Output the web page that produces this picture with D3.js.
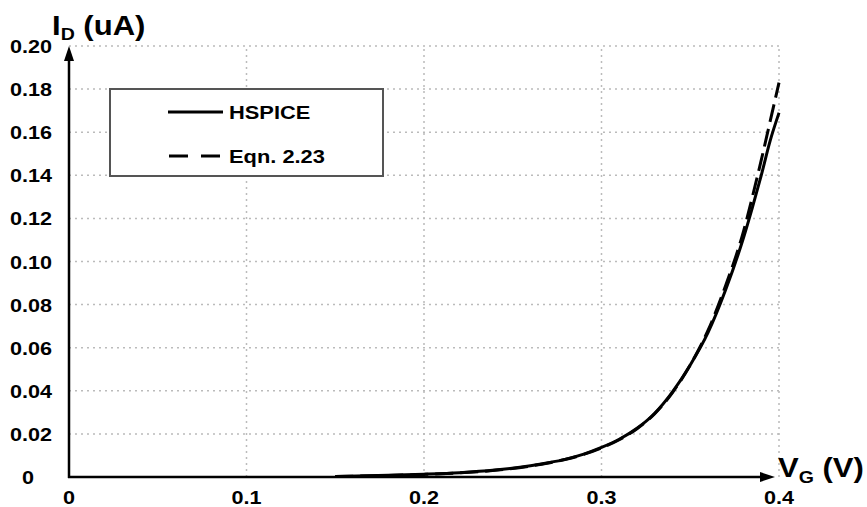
<!DOCTYPE html>
<html><head><meta charset="utf-8">
<script src="https://cdn.jsdelivr.net/npm/d3@7"></script>
<style>body{margin:0;background:#fff}text{font-family:"Liberation Sans",Arial,sans-serif;font-weight:bold;fill:#000}</style>
</head><body><svg id="c" width="867" height="507"></svg>
<script>
const vg     = [0.15,0.18,0.20,0.22,0.24,0.26,0.27,0.28,0.29,0.30,0.31,0.32,0.33,0.34,0.35,0.36,0.37,0.38,0.385,0.39,0.395,0.40];
const hspice = [0.0002,0.0008,0.0013,0.0020,0.0032,0.0052,0.0066,0.0083,0.0106,0.0137,0.0175,0.0226,0.0296,0.0395,0.052,0.067,0.087,0.111,0.125,0.140,0.156,0.169];
const eqn    = [0.0002,0.0007,0.0012,0.0019,0.0031,0.0051,0.0065,0.0082,0.0105,0.0135,0.0173,0.0224,0.0294,0.0392,0.052,0.068,0.089,0.114,0.130,0.147,0.165,0.183];
const xTicks = [0,0.1,0.2,0.3,0.4];
const xTickLabels = ["0","0.1","0.2","0.3","0.4"];
const yTicks = [0,0.02,0.04,0.06,0.08,0.10,0.12,0.14,0.16,0.18,0.20];
const yTickLabels = ["0","0.02","0.04","0.06","0.08","0.10","0.12","0.14","0.16","0.18","0.20"];
const seriesNames = ["HSPICE","Eqn. 2.23"];

const svg = d3.select("#c");
const x = d3.scaleLinear().domain([0,0.4]).range([69,779]);
const y = d3.scaleLinear().domain([0,0.2]).range([477,46]);

// grid
const g = svg.append("g");
g.selectAll("line.v").data(xTicks.slice(1)).enter().append("line")
 .attr("x1",d=>x(d)).attr("x2",d=>x(d)).attr("y1",y(0)).attr("y2",y(0.2))
 .attr("stroke","#bbb").attr("stroke-width",1.5).attr("stroke-dasharray","2,4");
g.selectAll("line.h").data(yTicks.slice(1)).enter().append("line")
 .attr("x1",x(0)).attr("x2",x(0.4)).attr("y1",d=>y(d)).attr("y2",d=>y(d))
 .attr("stroke","#bbb").attr("stroke-width",1.5).attr("stroke-dasharray","2,4");

// tick labels
const sx = 1.2;
svg.selectAll("text.xt").data(xTicks).enter().append("text")
 .attr("transform",d=>`translate(${x(d)},504) scale(${sx},1)`)
 .attr("text-anchor","middle").attr("font-size",18).text((d,i)=>xTickLabels[i]);
svg.selectAll("text.yt").data(yTicks).enter().append("text")
 .attr("transform",(d,i)=>`translate(${i===0?28:31},${y(d)+7}) scale(${sx},1)`)
 .attr("text-anchor","middle").attr("font-size",18).text((d,i)=>yTickLabels[i]);

// curves
const line = d3.line().x((d,i)=>x(vg[i])).y(d=>y(d)).curve(d3.curveMonotoneX);
svg.append("path").attr("d",line(eqn)).attr("fill","none").attr("stroke","#000")
 .attr("stroke-width",3).attr("stroke-dasharray","18,7");
svg.append("path").attr("d",line(hspice)).attr("fill","none").attr("stroke","#000")
 .attr("stroke-width",3);

// axes with arrows
svg.append("line").attr("x1",x(0)).attr("x2",x(0)).attr("y1",y(0)+1).attr("y2",y(0.2)+12)
 .attr("stroke","#000").attr("stroke-width",2.5);
svg.append("path").attr("d",`M${x(0)},${y(0.2)} L${x(0)-5},${y(0.2)+15} L${x(0)+5},${y(0.2)+15} Z`).attr("fill","#000");
svg.append("line").attr("x1",x(0)-1).attr("x2",x(0.4)-14).attr("y1",y(0)).attr("y2",y(0))
 .attr("stroke","#000").attr("stroke-width",2.5);
svg.append("path").attr("d",`M${x(0.4)-4},${y(0)} L${x(0.4)-19},${y(0)-5} L${x(0.4)-19},${y(0)+5} Z`).attr("fill","#000");

// axis titles
const yt = svg.append("text").attr("transform","translate(52,35) scale(1.15,1)").attr("font-size",27);
yt.append("tspan").text("I");
yt.append("tspan").attr("font-size",17).attr("dy",5).text("D");
yt.append("tspan").attr("dy",-5).text(" (uA)");
const xt = svg.append("text").attr("transform","translate(778,477) scale(1.15,1)").attr("font-size",27);
xt.append("tspan").text("V");
xt.append("tspan").attr("font-size",17).attr("dy",6).text("G");
xt.append("tspan").attr("dy",-6).text(" (V)");

// legend
svg.append("rect").attr("x",110).attr("y",89).attr("width",273).attr("height",87)
 .attr("fill","#fff").attr("stroke","#555").attr("stroke-width",2);
const leg = svg.append("g");
leg.append("line").attr("x1",168).attr("x2",223).attr("y1",112).attr("y2",112).attr("stroke","#000").attr("stroke-width",3);
leg.append("line").attr("x1",169).attr("x2",221).attr("y1",156).attr("y2",156).attr("stroke","#000").attr("stroke-width",3).attr("stroke-dasharray","19,13");
leg.selectAll("text").data(seriesNames).enter().append("text")
 .attr("transform",(d,i)=>`translate(229,${119+i*44}) scale(1.15,1)`).attr("font-size",19).text(d=>d);
</script></body></html>
